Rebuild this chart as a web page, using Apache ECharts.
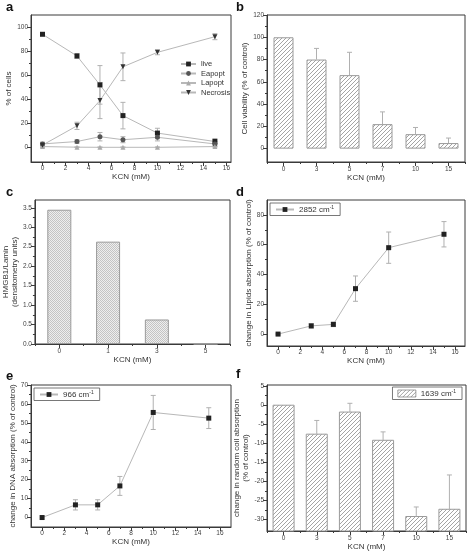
<!DOCTYPE html>
<html><head><meta charset="utf-8">
<script src="https://cdn.jsdelivr.net/npm/echarts@6/dist/echarts.min.js"></script>
<style>html,body{margin:0;padding:0;background:#fff}#c{width:468px;height:553px}</style>
</head><body><div id="c"></div>
<script>
// ---- data ----
const kcn = [0, 3, 5, 7, 10, 15];
const live = [94, 76, 52, 26.5, 12, 5];
const liveErr = [1, 2, 16, 11, 4, 2.5];
const eapopt = [3, 5, 9, 6.5, 8.5, 3];
const eapoptErr = [1.5, 1.5, 3.5, 2.5, 3, 2];
const lapopt = [0.8, 0.3, 0.2, 0.2, 0.2, 0.8];
const lapoptErr = [0.5, 0.3, 0.3, 0.3, 0.3, 0.5];
const necrosis = [2, 18, 39, 67, 79, 92];
const necrosisErr = [1.5, 3, 15, 11.5, 2, 2.5];

const catsB = ['0', '3', '5', '7', '10', '15'];
const viability = [100, 80, 66, 22, 13, 5];
const viabilityErr = [0, 10, 20.5, 11, 6, 4.5];

const catsC = ['0', '1', '3', '5'];
const hmgb1 = [3.45, 2.63, 0.63, 0];

const lipids = [0, 5.5, 6.5, 30.5, 58, 67];
const lipidsErr = [0.5, 1.5, 1.5, 8.5, 10.5, 8.5];

const dna = [0, 6.7, 6.7, 16.7, 55.5, 52.5];
const dnaErr = [0, 2.7, 2.7, 5, 9, 5.5];

const catsF = ['0', '3', '5', '7', '10', '15'];
const coil = [0, -7.6, -1.8, -9.2, -29.2, -27.3];
const coilErr = [0, 3.6, 2.3, 2.2, 2.5, 9];

const ticksA_Y = [0, 20, 40, 60, 80, 100];
const ticksX16 = [0, 2, 4, 6, 8, 10, 12, 14, 16];
const ticksB_Y = [0, 20, 40, 60, 80, 100, 120];
const ticksC_Y = [0, 0.5, 1, 1.5, 2, 2.5, 3, 3.5];
const ticksD_Y = [0, 20, 40, 60, 80];
const ticksE_Y = [0, 10, 20, 30, 40, 50, 60, 70];
const ticksF_Y = [-30, -25, -20, -15, -10, -5, 0, 5];

// ---- styling helpers ----
const FONT = 'Liberation Sans, Arial, sans-serif';
const AX = '#3a3a3a';
const LBL = '#444';
const LINE = '#b8b8b8';
const ERR = '#b0b0b0';
const F_MIN = -33;

function mkHatch() {
  const c = document.createElement('canvas'); c.width = 4; c.height = 4;
  const g = c.getContext('2d');
  g.fillStyle = '#fff'; g.fillRect(0, 0, 4, 4);
  g.fillStyle = '#a4a4a4';
  for (let i = 0; i < 4; i++) g.fillRect(i, 3 - i, 1, 1);
  return c;
}
function mkChecker() {
  const c = document.createElement('canvas'); c.width = 2; c.height = 2;
  const g = c.getContext('2d');
  g.fillStyle = '#eeeeee'; g.fillRect(0, 0, 2, 2);
  g.fillStyle = '#c4c4c4'; g.fillRect(0, 0, 1, 1); g.fillRect(1, 1, 1, 1);
  return c;
}
const hatch = {image: mkHatch(), repeat: 'repeat'};
const checker = {image: mkChecker(), repeat: 'repeat'};

function mids(arr) { const r = []; for (let i = 0; i < arr.length - 1; i++) r.push((arr[i] + arr[i + 1]) / 2); return r; }

function valAxis(dim, grid, min, max, majors, extra) {
  const minors = mids(majors);
  const base = {
    type: 'value', gridIndex: grid, min: min, max: max,
    splitLine: {show: false}
  };
  const main = Object.assign({}, base, {
    axisLine: {show: true, onZero: false, lineStyle: {color: AX, width: 1}},
    axisTick: {show: true, length: 4, customValues: majors, lineStyle: {color: AX}},
    axisLabel: {show: true, customValues: majors, fontSize: 6.5, color: LBL, fontFamily: FONT, margin: 3},
  }, extra || {});
  const minor = Object.assign({}, base, {
    axisLine: {show: false, onZero: false},
    axisTick: {show: true, length: 2, customValues: minors, lineStyle: {color: AX}},
    axisLabel: {show: false},
  });
  if (dim === 'x') { main.position = 'bottom'; minor.position = 'bottom'; }
  else { main.position = 'left'; minor.position = 'left'; }
  return [main, minor];
}
function catAxis(grid, cats, extra) {
  const main = Object.assign({
    type: 'category', gridIndex: grid, data: cats, position: 'bottom',
    axisLine: {show: true, onZero: false, lineStyle: {color: AX}},
    axisTick: {show: true, alignWithLabel: true, length: 4, lineStyle: {color: AX}},
    axisLabel: {fontSize: 6.5, color: LBL, fontFamily: FONT, margin: 4},
    splitLine: {show: false}
  }, extra || {});
  const minor = {
    type: 'category', gridIndex: grid, data: cats, position: 'bottom',
    axisLine: {show: false, onZero: false},
    axisTick: {show: true, length: 2, lineStyle: {color: AX}},
    axisLabel: {show: false}, splitLine: {show: false}
  };
  return [main, minor];
}
const nameStyle = {fontSize: 8, color: '#333', fontFamily: FONT};

function errSeries(xAxisIndex, yAxisIndex, xs, ys, errs, upperOnly, z) {
  const data = xs.map((x, i) => [x, ys[i], errs[i]]);
  return {
    type: 'custom', xAxisIndex, yAxisIndex, z: z || 1, silent: true,
    data: data,
    renderItem: function (params, api) {
      const x = api.value(0), y = api.value(1), e = api.value(2);
      if (!e) return null;
      const top = api.coord([x, y + e]);
      const bot = upperOnly ? api.coord([x, y]) : api.coord([x, y - e]);
      const w = 2.5;
      const st = {stroke: ERR, lineWidth: 1};
      const ch = [
        {type: 'line', shape: {x1: top[0], y1: top[1], x2: bot[0], y2: bot[1]}, style: st},
        {type: 'line', shape: {x1: top[0] - w, y1: top[1], x2: top[0] + w, y2: top[1]}, style: st}
      ];
      if (!upperOnly) ch.push({type: 'line', shape: {x1: bot[0] - w, y1: bot[1], x2: bot[0] + w, y2: bot[1]}, style: st});
      return {type: 'group', children: ch};
    }
  };
}
function lineSeries(name, xAxisIndex, yAxisIndex, xs, ys, symbol, color, rot) {
  return {
    name: name, type: 'line', xAxisIndex, yAxisIndex,
    data: xs.map((x, i) => [x, ys[i]]),
    symbol: symbol, symbolSize: 5, symbolRotate: rot || 0,
    lineStyle: {color: LINE, width: 1},
    itemStyle: {color: color},
    z: 3
  };
}

// ---- grids ----
const grids = [
  {left: 31, top: 15, width: 200, height: 147},   // a
  {left: 267, top: 15, width: 198, height: 147},  // b
  {left: 33, top: 200, width: 197, height: 144},  // c
  {left: 267, top: 200, width: 198, height: 146}, // d
  {left: 31, top: 385, width: 200, height: 142},  // e
  {left: 267, top: 385, width: 199, height: 146}  // f
].map(g => Object.assign({show: true, borderColor: AX, borderWidth: 1, backgroundColor: 'transparent'}, g));

const xAxes = [], yAxes = [];
function addX(arr) { const i = xAxes.length; xAxes.push(...arr); return i; }
function addY(arr) { const i = yAxes.length; yAxes.push(...arr); return i; }

const xName = (gap) => ({name: 'KCN (mM)', nameLocation: 'middle', nameGap: gap, nameTextStyle: nameStyle});

// a
const xa = addX(valAxis('x', 0, -1, 16.4, ticksX16, xName(11)));
const ya = addY(valAxis('y', 0, -12, 110, ticksA_Y, {name: '% of cells', nameLocation: 'middle', nameGap: 16, nameTextStyle: nameStyle}));
// b
const xb = addX(catAxis(1, catsB, xName(11)));
const yb = addY(valAxis('y', 1, -12, 120, ticksB_Y, {name: 'Cell viability (% of control)', nameLocation: 'middle', nameGap: 15, nameTextStyle: nameStyle}));
// c
const xc = addX(catAxis(2, catsC, xName(11)));
const yc = addY(valAxis('y', 2, 0, 3.7, ticksC_Y, {name: 'HMGB1/Lamin\n(densitometry units)', nameLocation: 'middle', nameGap: 12, nameTextStyle: Object.assign({lineHeight: 9}, nameStyle),
  axisLabel: {show: true, customValues: ticksC_Y, fontSize: 6.5, color: LBL, fontFamily: FONT, margin: 3, formatter: v => v.toFixed(1)}}));
// d
const xd = addX(valAxis('x', 3, -1, 16.9, ticksX16, xName(11)));
const yd = addY(valAxis('y', 3, -8, 90, ticksD_Y, {name: 'change in Lipids absorption (% of control)', nameLocation: 'middle', nameGap: 12, nameTextStyle: nameStyle}));
// e
const xe = addX(valAxis('x', 4, -1, 17, ticksX16, xName(11)));
const ye = addY(valAxis('y', 4, -5, 70, ticksE_Y, {name: 'change in DNA absorption (% of control)', nameLocation: 'middle', nameGap: 12, nameTextStyle: nameStyle}));
// f
const xf = addX(catAxis(5, catsF, xName(11)));
const yf = addY(valAxis('y', 5, F_MIN, 5.3, ticksF_Y, {name: 'change in random coil absorption\n(% of control)', nameLocation: 'middle', nameGap: 12, nameTextStyle: Object.assign({lineHeight: 9}, nameStyle)}));

const supRich = {sup: {fontSize: 5, verticalAlign: 'top', padding: [0, 0, 4, 0], color: '#333', fontFamily: FONT}};

// bars for f drawn from the axis bottom (Origin-style baseline)
const barsF = {
  name: '1639 cm{sup|-1}', type: 'custom', xAxisIndex: xf, yAxisIndex: yf, z: 2,
  itemStyle: {color: hatch, borderColor: '#9a9a9a', borderWidth: 1},
  data: coil.map((v, i) => [i, v]),
  encode: {x: 0, y: 1},
  renderItem: function (params, api) {
    const i = api.value(0), v = api.value(1);
    const p1 = api.coord([i, v]);
    const p0 = api.coord([i, F_MIN]);
    const w = 21;
    return {type: 'rect', shape: {x: p1[0] - w / 2, y: Math.min(p1[1], p0[1]), width: w, height: Math.abs(p0[1] - p1[1])},
      style: {fill: hatch, stroke: '#9a9a9a', lineWidth: 1}};
  }
};

const series = [
  // a
  errSeries(xa, ya, kcn, live, liveErr, false),
  errSeries(xa, ya, kcn, eapopt, eapoptErr, false),
  errSeries(xa, ya, kcn, lapopt, lapoptErr, false),
  errSeries(xa, ya, kcn, necrosis, necrosisErr, false),
  lineSeries('live', xa, ya, kcn, live, 'rect', '#222'),
  lineSeries('Eapopt', xa, ya, kcn, eapopt, 'circle', '#555'),
  lineSeries('Lapopt', xa, ya, kcn, lapopt, 'triangle', '#aaa'),
  lineSeries('Necrosis', xa, ya, kcn, necrosis, 'triangle', '#333', 180),
  // b
  {type: 'bar', xAxisIndex: xb, yAxisIndex: yb, data: viability, barWidth: 20,
   itemStyle: {color: hatch, borderColor: '#9a9a9a', borderWidth: 1}, z: 2},
  errSeries(xb, yb, [0,1,2,3,4,5], viability, viabilityErr, true, 3),
  // c
  {type: 'bar', xAxisIndex: xc, yAxisIndex: yc, data: hmgb1, barWidth: 24,
   itemStyle: {color: checker, borderColor: '#9a9a9a', borderWidth: 1}, z: 2},
  // d
  errSeries(xd, yd, kcn, lipids, lipidsErr, false),
  lineSeries('2852 cm{sup|-1}', xd, yd, kcn, lipids, 'rect', '#222'),
  // e
  errSeries(xe, ye, kcn, dna, dnaErr, false),
  lineSeries('966 cm{sup|-1}', xe, ye, kcn, dna, 'rect', '#222'),
  // f
  barsF,
  errSeries(xf, yf, [0,1,2,3,4,5], coil, coilErr, true, 3)
];

const legendText = {fontSize: 8, color: '#333', fontFamily: FONT, rich: supRich};
const legends = [
  {data: ['live', 'Eapopt', 'Lapopt', 'Necrosis'], orient: 'vertical', left: 175, top: 55,
   itemWidth: 15, itemHeight: 6, itemGap: 1.5, textStyle: {fontSize: 7.5, color: '#333', fontFamily: FONT}, selectedMode: false},
  {data: ['2852 cm{sup|-1}'], left: 270, top: 203, itemWidth: 18, itemHeight: 6, padding: [2, 6, 2, 5],
   borderColor: '#555', borderWidth: 0.8, textStyle: legendText, selectedMode: false},
  {data: ['966 cm{sup|-1}'], left: 34, top: 388, itemWidth: 18, itemHeight: 6, padding: [2, 6, 2, 5],
   borderColor: '#555', borderWidth: 0.8, textStyle: legendText, selectedMode: false},
  {data: [{name: '1639 cm{sup|-1}', icon: 'rect', itemStyle: {color: hatch, borderColor: '#888', borderWidth: 0.8}}],
   right: 6, top: 387, itemWidth: 18, itemHeight: 7, padding: [2, 6, 2, 5],
   borderColor: '#555', borderWidth: 0.8, textStyle: legendText, selectedMode: false}
];

const panelLetter = (t, l, tp) => ({text: t, left: l, top: tp, padding: 0, textStyle: {fontSize: 13, fontWeight: 'bold', color: '#111', fontFamily: FONT}});
const titles = [
  panelLetter('a', 6, 1), panelLetter('b', 236, 1), panelLetter('c', 6, 186),
  panelLetter('d', 236, 186), panelLetter('e', 6, 370), panelLetter('f', 236, 368)
];

const chart = echarts.init(document.getElementById('c'), null, {renderer: 'canvas'});
chart.setOption({
  animation: false,
  backgroundColor: '#fff',
  title: titles,
  grid: grids,
  xAxis: xAxes,
  yAxis: yAxes,
  legend: legends,
  series: series
});
</script></body></html>
